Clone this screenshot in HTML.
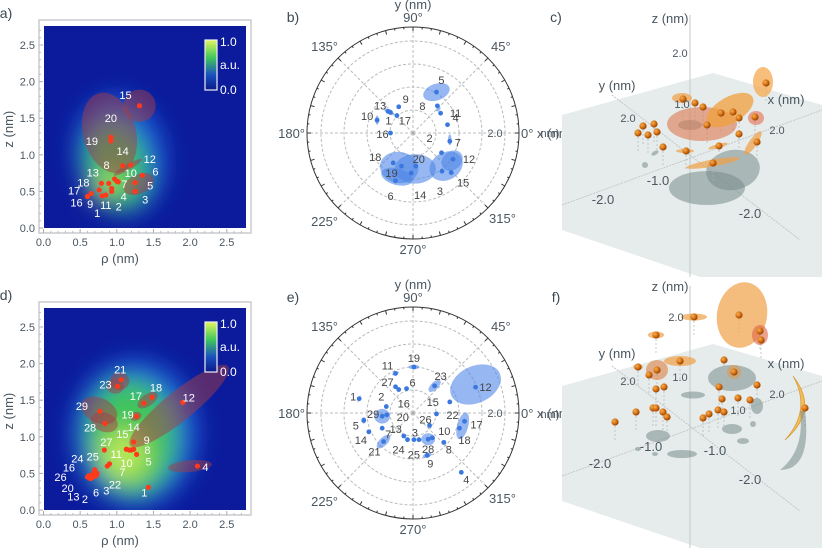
<!DOCTYPE html>
<html><head><meta charset="utf-8">
<style>
html,body{margin:0;padding:0;background:#fff;}
svg{display:block;font-family:"Liberation Sans",sans-serif;}
.t{fill:#4a5660;font-size:11px;}
.ax{fill:#4a5660;font-size:13px;}
.pl{fill:#3c4852;font-size:14px;}
.wl{fill:#fff;font-size:11px;}
.pt{fill:#444;font-size:11px;}
</style></head>
<body>
<svg id="fig" width="822" height="551" viewBox="0 0 822 551">
<defs>
<filter id="blur" x="-50%" y="-50%" width="200%" height="200%"><feGaussianBlur stdDeviation="12"/></filter>
<clipPath id="clipA"><rect x="44" y="26" width="202" height="202"/></clipPath>
<clipPath id="clipD"><rect x="44" y="308" width="202" height="202"/></clipPath>
<linearGradient id="cbar" x1="0" y1="0" x2="0" y2="1">
<stop offset="0" stop-color="#e4f560"/><stop offset="0.35" stop-color="#40c85a"/><stop offset="0.7" stop-color="#1a50c0"/><stop offset="1" stop-color="#0a1a8a"/></linearGradient>
<radialGradient id="ball" cx="0.35" cy="0.35" r="0.7"><stop offset="0" stop-color="#f5b050"/><stop offset="0.6" stop-color="#d06a10"/><stop offset="1" stop-color="#8a3a00"/></radialGradient>
</defs>
<g id="root"></g>
</svg>
<script>
// ---------- data ----------
const aPoints = [[1.31,1.67,'15'],[0.92,1.24,'20'],[0.92,1.19,'19'],[1.08,0.85,'14'],[1.19,0.86,'12'],[1.35,0.72,'6'],[1.25,0.62,'5'],[1.25,0.5,'3'],[1.0,0.64,'10'],[1.02,0.63,'7'],[0.97,0.67,'8'],[0.79,0.61,'18'],[0.89,0.61,'13'],[0.93,0.54,'4'],[0.93,0.5,'2'],[0.8,0.44,'1'],[0.76,0.52,'9'],[0.65,0.47,'17'],[0.6,0.43,'16'],[0.85,0.45,'11']];
const aLabelOff = [[-14,-11],[0,-19],[-19,0],[0,-15],[19,-6],[13,-4],[15,3],[10,8],[14,-8],[6,2],[-8,-14],[-18,-1],[-16,-11],[12,8],[7,15],[-5,17],[-9,14],[-17,-3],[-11,6],[0,10]];
const aRegions = [[0.9,1.3,0.36,0.56,-15],[1.31,1.67,0.22,0.22,0],[1.3,0.6,0.22,0.13,-25],[1.15,0.83,0.22,0.04,-30]];
const dPoints = [[1.06,1.78,'21'],[1.01,1.69,'23'],[1.37,1.46,'17'],[1.48,1.54,'18'],[1.9,1.47,'12'],[0.77,1.35,'29'],[1.27,1.28,'19'],[0.84,1.18,'28'],[1.23,0.93,'14'],[1.13,0.83,'15'],[1.23,0.83,'9'],[1.2,0.82,'8'],[1.17,0.82,'11'],[1.27,0.76,'5'],[0.83,0.82,'27'],[0.9,0.63,'10'],[0.87,0.6,'7'],[2.1,0.6,'4'],[1.43,0.31,'1'],[0.7,0.55,'25'],[0.68,0.5,'24'],[0.62,0.47,'16'],[0.6,0.45,'26'],[0.63,0.44,'20'],[0.64,0.43,'13'],[0.66,0.44,'2'],[0.69,0.46,'6'],[0.72,0.47,'3'],[0.73,0.5,'22']];
const dLabelOff = [[-1,-10],[-12,-2],[-8,-7],[4,-10],[6,-5],[-18,-5],[-9,-2],[-15,4],[0,-15],[-4,-15],[13,-9],[16,0],[-13,4],[12,7],[2,-8],[17,-1],[15,6],[8,1],[-4,5],[-2,-13],[-16,-15],[-20,-8],[-27,0],[-22,10],[-17,18],[-7,21],[2,16],[10,15],[18,11]];
const dRegions = [[1.85,1.42,0.86,0.2,-39],[2.0,0.6,0.3,0.08,-5],[1.04,1.76,0.13,0.12,0],[0.98,1.69,0.12,0.1,0],[0.76,1.36,0.26,0.17,25],[0.83,1.2,0.19,0.13,20],[1.42,1.5,0.16,0.08,-35],[1.26,1.28,0.08,0.06,-20]];
const bPoints = [[0.51,0.89,'5'],[0.53,0.59,'8'],[0.6,0.43,'11'],[0.75,0.18,'4'],[0.8,-0.18,'7'],[0.62,-0.43,'2'],[0.87,-0.57,'12'],[0.83,-0.86,'15'],[0.63,-0.83,'3'],[-0.04,-0.87,'14'],[0.06,-0.72,'20'],[-0.25,-0.72,'19'],[-0.38,-1.04,'6'],[-0.43,-0.65,'18'],[-0.49,0,'16'],[-0.78,0.28,'10'],[-0.54,0.47,'13'],[-0.49,0.45,'1'],[-0.31,0.57,'9'],[-0.35,0.38,'17']];
const bLabelOff = [[5,-12],[-15,0],[15,0],[8,-7],[8,1],[-12,-15],[16,0],[12,10],[-2,20],[9,22],[3,-7],[-10,7],[-5,15],[-18,-6],[-8,1],[-10,-4],[-8,-6],[-2,8],[7,-8],[8,5]];
const bRegions = [[0.51,0.89,0.3,0.18,-20],[-0.3,-0.75,0.42,0.34,10],[0.05,-0.78,0.45,0.32,0],[-0.35,-0.95,0.35,0.18,15],[0.72,-0.72,0.38,0.3,-30],[0.85,-0.6,0.25,0.2,-40],[0.55,0.52,0.06,0.04,-50],[0.8,-0.15,0.04,0.12,0],[-0.52,0.46,0.12,0.05,30],[-0.78,0.28,0.04,0.1,0]];
const ePoints = [[0.02,1.0,'19'],[-0.38,0.86,'11'],[-0.38,0.57,'27'],[-0.14,0.53,'6'],[-0.31,0.51,'16'],[-1.17,0.31,'1'],[-0.58,0.14,'2'],[-0.67,-0.07,'29'],[-0.57,-0.04,'20'],[-1.07,-0.16,'5'],[-0.67,-0.33,'7'],[-0.96,-0.41,'14'],[-0.64,-0.62,'21'],[-0.2,-0.5,'13'],[-0.12,-0.58,'24'],[0.02,-0.58,'25'],[0.13,-0.58,'3'],[0.33,-0.57,'28'],[0.42,-0.54,'10'],[0.36,-0.27,'26'],[0.51,-0.02,'22'],[0.8,0.24,'15'],[0.47,0.59,'23'],[1.36,0.56,'12'],[1.12,-0.18,'17'],[1.01,-0.33,'18'],[0.67,-0.64,'8'],[0.31,-0.92,'9'],[1.05,-1.29,'4']];
const eLabelOff = [[0,-9],[-8,-8],[-8,-5],[6,-6],[5,14],[-6,-2],[-5,-10],[-9,-2],[16,2],[-8,5],[6,6],[-8,8],[-9,10],[-8,-7],[-9,10],[0,15],[-4,-7],[0,10],[12,-7],[-4,-6],[16,1],[-17,0],[6,-10],[10,0],[12,3],[5,12],[5,7],[3,8],[5,7]];
const eRegions = [[1.36,0.62,0.58,0.4,-25],[-0.67,-0.07,0.17,0.16,0],[0.33,-0.57,0.15,0.13,0],[0.47,0.59,0.17,0.08,-45],[-0.64,-0.62,0.19,0.09,-45],[1.08,-0.28,0.12,0.3,15],[0.02,1.0,0.12,0.05,0],[-0.38,0.86,0.08,0.03,-20],[0.31,-0.92,0.1,0.05,-20],[0.67,-0.64,0.06,0.03,-45],[-1.17,0.31,0.02,0.08,20],[-1.07,-0.16,0.05,0.07,0],[-0.96,-0.41,0.05,0.05,0]];
const cBalls = [[766,83],[683,99],[695,103],[703,107],[721,113],[733,112],[739,118],[755,117],[707,125],[643,126],[654,124],[638,133],[648,135],[657,132],[663,147],[686,151],[719,146],[739,134],[757,142],[713,163]];
const fBalls = [[739,315],[694,317],[656,335],[760,331],[761,340],[680,361],[724,360],[638,367],[657,370],[649,375],[734,372],[719,387],[757,385],[656,389],[664,387],[722,399],[738,398],[750,400],[636,412],[653,408],[656,408],[663,412],[667,417],[703,418],[709,414],[718,410],[724,412],[615,422],[805,408]];
const tickVals = ['0.0','0.5','1.0','1.5','2.0','2.5'];
// ---------- helpers ----------
const NS='http://www.w3.org/2000/svg';
const root=document.getElementById('root');
function mk(tag,attrs,parent,txt){const e=document.createElementNS(NS,tag);for(const k in attrs)e.setAttribute(k,attrs[k]);if(txt!==undefined)e.textContent=txt;(parent||root).appendChild(e);return e;}
const X=r=>43.5+r*73.3;
function heat(yOff,clip,glows,regions,points,offs,name){
  const Y=z=>yOff-z*73.2;
  const g=mk('g',{});
  
  
  mk('rect',{x:39,y:yOff-208,width:212,height:213,fill:'#fff',stroke:'#c8cccf','stroke-width':1.5},g);
  const hg=mk('g',{'clip-path':'url(#'+clip+')'},g);
  mk('rect',{x:44,y:yOff-202,width:202,height:202,fill:'#0b1b9c'},hg);
  const bl=mk('g',{filter:'url(#blur)'},hg);
  glows.forEach(q=>{mk('ellipse',{cx:X(q[0]),cy:Y(q[1]),rx:q[2]*73.3,ry:q[3]*73.2,fill:q[5],transform:`rotate(${q[4]} ${X(q[0])} ${Y(q[1])})`},bl);});
  regions.forEach(q=>{const e=mk('ellipse',{cx:X(q[0]),cy:Y(q[1]),rx:q[2]*73.3,ry:q[3]*73.2,fill:'rgba(165,60,70,0.5)',transform:`rotate(${q[4]} ${X(q[0])} ${Y(q[1])})`},hg);
    
    });
  points.forEach((p,i)=>{const c=mk('circle',{cx:X(p[0]),cy:Y(p[1]),r:2.6,fill:'#ff3a1a'},g);
    
    
    const o=offs[i];mk('text',{x:X(p[0])+o[0],y:Y(p[1])+o[1]+4,'text-anchor':'middle',class:'wl'},g,p[2]);});
  tickVals.forEach((t,i)=>{const v=i*0.5;
    mk('line',{x1:X(v),x2:X(v),y1:yOff+5,y2:yOff+1,stroke:'#aaa'},g);
    mk('line',{x1:39,x2:43,y1:Y(v),y2:Y(v),stroke:'#aaa'},g);
    mk('text',{x:X(v),y:yOff+18,'text-anchor':'middle',class:'t'},g,t);
    mk('text',{x:35,y:Y(v)+4,'text-anchor':'end',class:'t'},g,t);});
  for(let v=0.1;v<2.75;v+=0.1){mk('line',{x1:X(v),x2:X(v),y1:yOff+5,y2:yOff+3,stroke:'#bbb'},g);mk('line',{x1:39,x2:41,y1:Y(v),y2:Y(v),stroke:'#bbb'},g);}
  mk('text',{x:120,y:yOff+35,'text-anchor':'middle',class:'ax','font-size':'14px'},g,'ρ (nm)');
  mk('text',{x:13,y:Y(1.35),'text-anchor':'middle',class:'ax','font-size':'14px',transform:`rotate(-90 13 ${Y(1.35)})`},g,'z (nm)');
  const cb=mk('rect',{x:205,y:yOff-188,width:12,height:50,fill:'url(#cbar)',stroke:'#eee','stroke-width':1.2},g);
  
  
  mk('text',{x:220,y:yOff-182,fill:'#fff','font-size':'12px'},g,'1.0');
  mk('text',{x:220,y:yOff-159,fill:'#fff','font-size':'12px'},g,'a.u.');
  mk('text',{x:220,y:yOff-134,fill:'#fff','font-size':'12px'},g,'0.0');
}
heat(228,'clipA',[[1.05,1.0,0.6,0.8,-10,'#1f62d8'],[1.0,0.85,0.42,0.6,-15,'#3cc060'],[0.85,0.58,0.24,0.1,-38,'#c8ec58']],aRegions,aPoints,aLabelOff,'a');
heat(510,'clipD',[[1.25,1.05,0.85,1.0,0,'#1f62d8'],[1.2,1.0,0.62,0.8,-5,'#40c45c'],[1.1,0.75,0.32,0.35,-20,'#b8e858']],dRegions,dPoints,dLabelOff,'d');

function polar(cy,points,offs,regions,name){
  const cx=413,S=46;
  const PX=x=>cx+x*S,PY=y=>cy-y*S;
  const g=mk('g',{});
  
  
  [23,46,69,92].forEach(r=>mk('circle',{cx,cy,r,fill:'none',stroke:'#b8bcbf','stroke-dasharray':'3,2'},g));
  for(let a=0;a<360;a+=45){const t=a*Math.PI/180;mk('line',{x1:cx,y1:cy,x2:cx+106*Math.cos(t),y2:cy-106*Math.sin(t),stroke:'#b8bcbf','stroke-dasharray':'3,2'},g);}
  mk('circle',{cx,cy,r:106,fill:'none',stroke:'#333','stroke-width':1},g);
  for(let a=0;a<360;a+=5){const t=a*Math.PI/180,l=(a%15==0)?4:2;mk('line',{x1:cx+106*Math.cos(t),y1:cy-106*Math.sin(t),x2:cx+(106-l)*Math.cos(t),y2:cy-(106-l)*Math.sin(t),stroke:'#333'},g);}
  regions.forEach(q=>{const e=mk('ellipse',{cx:PX(q[0]),cy:PY(q[1]),rx:q[2]*S,ry:q[3]*S,fill:'rgba(80,135,232,0.6)',transform:`rotate(${q[4]} ${PX(q[0])} ${PY(q[1])})`},g);
    
    });
  points.forEach((p,i)=>{const c=mk('circle',{cx:PX(p[0]),cy:PY(p[1]),r:2.4,fill:'#3a78e0'},g);
    
    
    const o=offs[i];mk('text',{x:PX(p[0])+o[0],y:PY(p[1])+o[1]+4,'text-anchor':'middle',class:'pt'},g,p[2]);});
  mk('circle',{cx,cy,r:1.5,fill:'#aaa'},g);
  mk('text',{x:cx+82,y:cy+4,'text-anchor':'middle',class:'t'},g,'2.0');
  const L=[['90°',cx,cy-111,'middle'],['45°',cx+78,cy-82,'start'],['135°',cx-75,cy-82,'end'],['0° x (nm)',cx+108,cy+5,'start'],['180°',cx-108,cy+5,'end'],['225°',cx-75,cy+93,'end'],['315°',cx+76,cy+90,'start'],['270°',cx,cy+121,'middle'],['y (nm)',cx,cy-124,'middle']];
  L.forEach(l=>mk('text',{x:l[1],y:l[2],'text-anchor':l[3],class:'ax','font-size':'13px'},g,l[0]));
}
polar(133,bPoints,bLabelOff,bRegions,'b');
polar(413,ePoints,eLabelOff,eRegions,'e');

function scene(dy,balls,ells,shadows,name,extra){
  const g=mk('g',{});
  
  
  mk('polygon',{points:`562,${115+dy} 713,${73+dy} 822,${105+dy} 822,${277+dy} 700,${277+dy} 562,${230+dy}`,fill:'#e6eceb'},g);
  mk('line',{x1:690,y1:15+dy,x2:690,y2:277+dy,stroke:'#c4c8c8'},g);
  mk('line',{x1:562,y1:205+dy,x2:822,y2:110+dy,stroke:'#c4c8c8','stroke-dasharray':'2,1'},g);
  mk('line',{x1:612,y1:95+dy,x2:800,y2:240+dy,stroke:'#c4c8c8','stroke-dasharray':'2,1'},g);
  shadows.forEach(s=>mk('ellipse',{cx:s[0],cy:s[1]+dy,rx:s[2],ry:s[3],fill:'rgba(120,140,140,0.55)',transform:`rotate(${s[4]} ${s[0]} ${s[1]+dy})`},g));
  balls.forEach(b=>mk('line',{x1:b[0],y1:b[1],x2:b[0],y2:b[1]+18,stroke:'#b0b4b4','stroke-dasharray':'2,2','stroke-width':0.7},g));
  ells.forEach(s=>mk('ellipse',{cx:s[0],cy:s[1]+dy,rx:s[2],ry:s[3],fill:s[5]||'rgba(240,160,70,0.7)',transform:`rotate(${s[4]} ${s[0]} ${s[1]+dy})`},g));
  if(extra)extra(g);
  balls.forEach(b=>{const c=mk('circle',{cx:b[0],cy:b[1],r:3.6,fill:'url(#ball)'},g);
    
    });
}
scene(0,cBalls,[[702,124,35,17,0,'rgba(220,120,80,0.6)'],[730,110,26,13,-30,'rgba(240,160,60,0.75)'],[763,82,10,15,0,'rgba(245,170,80,0.75)'],[682,98,10,5,0],[713,163,27,3.5,-10],[753,143,4,14,35],[756,118,8,7,0,'rgba(230,110,80,0.6)'],[718,146,10,2,-15],[685,151,9,2,0]],
  [[707,188,38,17,0],[733,170,27,20,-10],[690,125,12,5,0],[645,165,3,3,0],[655,153,4,2,-30]],'c');
scene(271,fBalls,[[742,44,25,33,10],[694,46,13,3.5,0],[656,64,8,3.5,0],[680,90,16,5,0],[657,99,11,10,0,'rgba(220,130,70,0.6)'],[760,64,8,10,0,'rgba(220,100,70,0.6)'],[638,96,5,3,0],[734,101,7,7,0,'rgba(230,150,60,0.5)']],
  [[732,107,24,13,0],[693,124,12,3.5,0],[658,165,12,6,0],[682,183,15,4,0],[732,158,10,5,0],[743,170,6,3,0],[757,135,6,8,0],[638,178,3,2,0],[655,183,3,2,0],[753,153,3,3,0]],'f',
  g=>{mk('path',{d:'M793,376 Q820,410 785,440 Q812,410 793,376Z',fill:'rgba(240,180,60,0.85)',stroke:'#d89030','stroke-width':0.6},g);
      mk('path',{d:'M805,411 Q812,470 780,470 Q805,450 800,411Z',fill:'rgba(120,140,140,0.55)'},g);});
[['z (nm)',670,23],['2.0',680,57],['1.0',682,108],['y (nm)',617,90],['2.0',628,122],['x (nm)',786,104],['2.0',777,134],['-1.0',658,185],['-2.0',603,204],['-2.0',750,218],['nm)',550,137],
 ['z (nm)',670,291],['2.0',676,321],['1.0',680,381],['y (nm)',617,358],['2.0',628,385],['x (nm)',786,368],['2.0',777,398],['1.0',738,414],['-1.0',651,451],['-1.0',715,455],['-2.0',600,468],['-2.0',750,484],['nm)',550,418]]
.forEach(l=>{const big=l[0].length>3; mk('text',{x:l[1],y:l[2],'text-anchor':'middle',class:big?'ax':'t','font-size':big?'13px':'10px'},root,l[0]);});
[['a)',6,18],['b)',293,22],['c)',556,22],['d)',6,300],['e)',293,302],['f)',556,302]].forEach(l=>{const t=mk('text',{x:l[1],y:l[2],'text-anchor':'middle',class:'pl'},root,l[0]);
  
  });
</script>
</body></html>
